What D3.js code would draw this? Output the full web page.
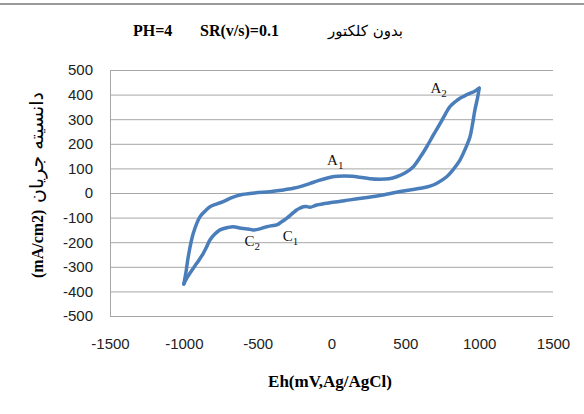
<!DOCTYPE html>
<html>
<head>
<meta charset="utf-8">
<script src="https://cdn.jsdelivr.net/npm/d3@7"></script>
<style>
  body { margin: 0; background: #fff; }
</style>
</head>
<body>
<div id="canvas"></div>
<script>
// anodic sweep, -1000 -> 1000 mV
var forwardE = [-1000, -985, -970, -936, -890, -850, -823, -780, -733, -680, -620, -520, -417, -340, -259, -200, -145, -90, -33, 20, 80, 140, 193, 260, 329, 390, 441, 500, 554, 600, 645, 690, 736, 770, 802, 840, 870, 905, 938, 970, 1000];
var forwardI = [-370, -320, -259, -164, -96, -70, -56, -45, -35, -20, -8, 0, 5, 11, 19, 28, 39, 50, 60, 67, 69, 68, 64, 58, 56, 58, 66, 82, 107, 145, 188, 236, 283, 320, 351, 372, 385, 396, 405, 414, 426];
// cathodic sweep, 1000 -> -1000 mV
var reverseE = [1000, 990, 971, 955, 938, 905, 870, 825, 780, 720, 667, 600, 531, 440, 351, 240, 125, 10, -100, -145, -170, -191, -215, -236, -270, -304, -340, -372, -405, -439, -485, -530, -565, -597, -630, -665, -700, -755, -790, -823, -845, -868, -890, -913, -950, -981, -1000];
var reverseI = [426, 390, 337, 280, 229, 178, 134, 96, 66, 42, 28, 19, 12, 3, -8, -18, -28, -38, -49, -58, -55, -56, -62, -69, -86, -103, -118, -130, -133, -137, -146, -150, -146, -144, -141, -137, -140, -150, -167, -191, -218, -245, -266, -286, -318, -347, -370];

var xTicks = [-1500, -1000, -500, 0, 500, 1000, 1500];
var yTicks = [-500, -400, -300, -200, -100, 0, 100, 200, 300, 400, 500];

var peakLabels = ['A', 'A', 'C', 'C'];
var peakSubs = ['2', '1', '2', '1'];
var peakE = [670, -30, -590, -330];
var peakI = [405, 112, -215, -195];

var svgWidth = 584;
var svgHeight = 414;
var lineColor = '#4a7ebb';
var gridColor = '#a6a6a6';
var serif = 'Liberation Serif, DejaVu Serif, serif';

var svg = d3.select('#canvas')
    .append('svg')
    .attr('width', svgWidth)
    .attr('height', svgHeight)
    .style('display', 'block');

// frame line at the top of the screenshot
svg.append('line')
    .attr('x1', 0).attr('x2', svgWidth)
    .attr('y1', 4).attr('y2', 4)
    .attr('stroke', '#9a9a9a')
    .attr('stroke-width', 2);

var x = d3.scaleLinear().domain([-1500, 1500]).range([110, 553]);
var y = d3.scaleLinear().domain([-500, 500]).range([316, 70]);

// horizontal gridlines
var yAxis = d3.axisLeft(y)
    .tickValues(yTicks)
    .tickSize(-(x(1500) - x(-1500)))
    .tickPadding(17)
    .tickFormat(function (d) { return String(d); });

var gy = svg.append('g')
    .attr('transform', 'translate(' + x(-1500) + ',0)')
    .call(yAxis);
gy.select('.domain').attr('stroke', gridColor).attr('d', 'M0.5,' + y(500) + 'V' + y(-500));
gy.selectAll('.tick line').attr('stroke', gridColor).attr('stroke-width', 1);
gy.selectAll('.tick text')
    .attr('fill', '#222')
    .attr('font-family', 'Liberation Sans, Arial, sans-serif')
    .attr('font-size', '15px');

var xAxis = d3.axisBottom(x)
    .tickValues(xTicks)
    .tickSize(0)
    .tickPadding(22)
    .tickFormat(function (d) { return String(d); });

var gx = svg.append('g')
    .attr('transform', 'translate(0,' + y(-500) + ')')
    .call(xAxis);
gx.select('.domain').remove();
gx.selectAll('.tick text')
    .attr('fill', '#222')
    .attr('font-family', 'Liberation Sans, Arial, sans-serif')
    .attr('font-size', '15px');

// voltammogram
var line = d3.line()
    .x(function (d) { return x(d[0]); })
    .y(function (d) { return y(d[1]); })
    .curve(d3.curveCatmullRom.alpha(0.5));

var fwd = forwardE.map(function (e, i) { return [e, forwardI[i]]; });
var rev = reverseE.map(function (e, i) { return [e, reverseI[i]]; });

[fwd, rev].forEach(function (pts) {
    svg.append('path')
        .datum(pts)
        .attr('d', line)
        .attr('fill', 'none')
        .attr('stroke', lineColor)
        .attr('stroke-width', 3.5)
        .attr('stroke-linejoin', 'round')
        .attr('stroke-linecap', 'round');
});

// peak labels
peakLabels.forEach(function (lab, i) {
    var t = svg.append('text')
        .attr('x', x(peakE[i]))
        .attr('y', y(peakI[i]))
        .attr('font-family', serif)
        .attr('font-size', '15px')
        .attr('fill', '#111');
    t.append('tspan').text(lab);
    t.append('tspan').attr('dy', 4).attr('font-size', '11px').text(peakSubs[i]);
});

// title
svg.append('text')
    .attr('x', 133).attr('y', 36)
    .text('PH=4')
    .attr('font-family', serif)
    .attr('font-weight', 'bold')
    .attr('font-size', '16px');
svg.append('text')
    .attr('x', 200).attr('y', 36)
    .text('SR(v/s)=0.1')
    .attr('font-family', serif)
    .attr('font-weight', 'bold')
    .attr('font-size', '16px');
svg.append('text')
    .attr('x', 403).attr('y', 36)
    .attr('text-anchor', 'end')
    .text('بدون کلکتور')
    .attr('font-family', 'DejaVu Sans, sans-serif')
    .attr('font-size', '15px');

// axis titles
svg.append('text')
    .attr('x', 330).attr('y', 387)
    .attr('text-anchor', 'middle')
    .text('Eh(mV,Ag/AgCl)')
    .attr('font-family', serif)
    .attr('font-weight', 'bold')
    .attr('font-size', '17px');

// y title: two pieces so the bidi layout can't flip the parenthesis
var yTitle = svg.append('g')
    .attr('transform', 'translate(43,0) rotate(-90)');
yTitle.append('text')
    .attr('x', -278).attr('y', 0)
    .attr('text-anchor', 'start')
    .attr('font-family', serif)
    .attr('font-weight', 'bold')
    .attr('font-size', '16px')
    .text('(mA/cm2)');
yTitle.append('text')
    .attr('x', -92).attr('y', 0)
    .attr('text-anchor', 'end')
    .attr('font-family', 'DejaVu Sans, sans-serif')
    .attr('font-size', '19px')
    .text('دانسیته جریان');
</script>
</body>
</html>
